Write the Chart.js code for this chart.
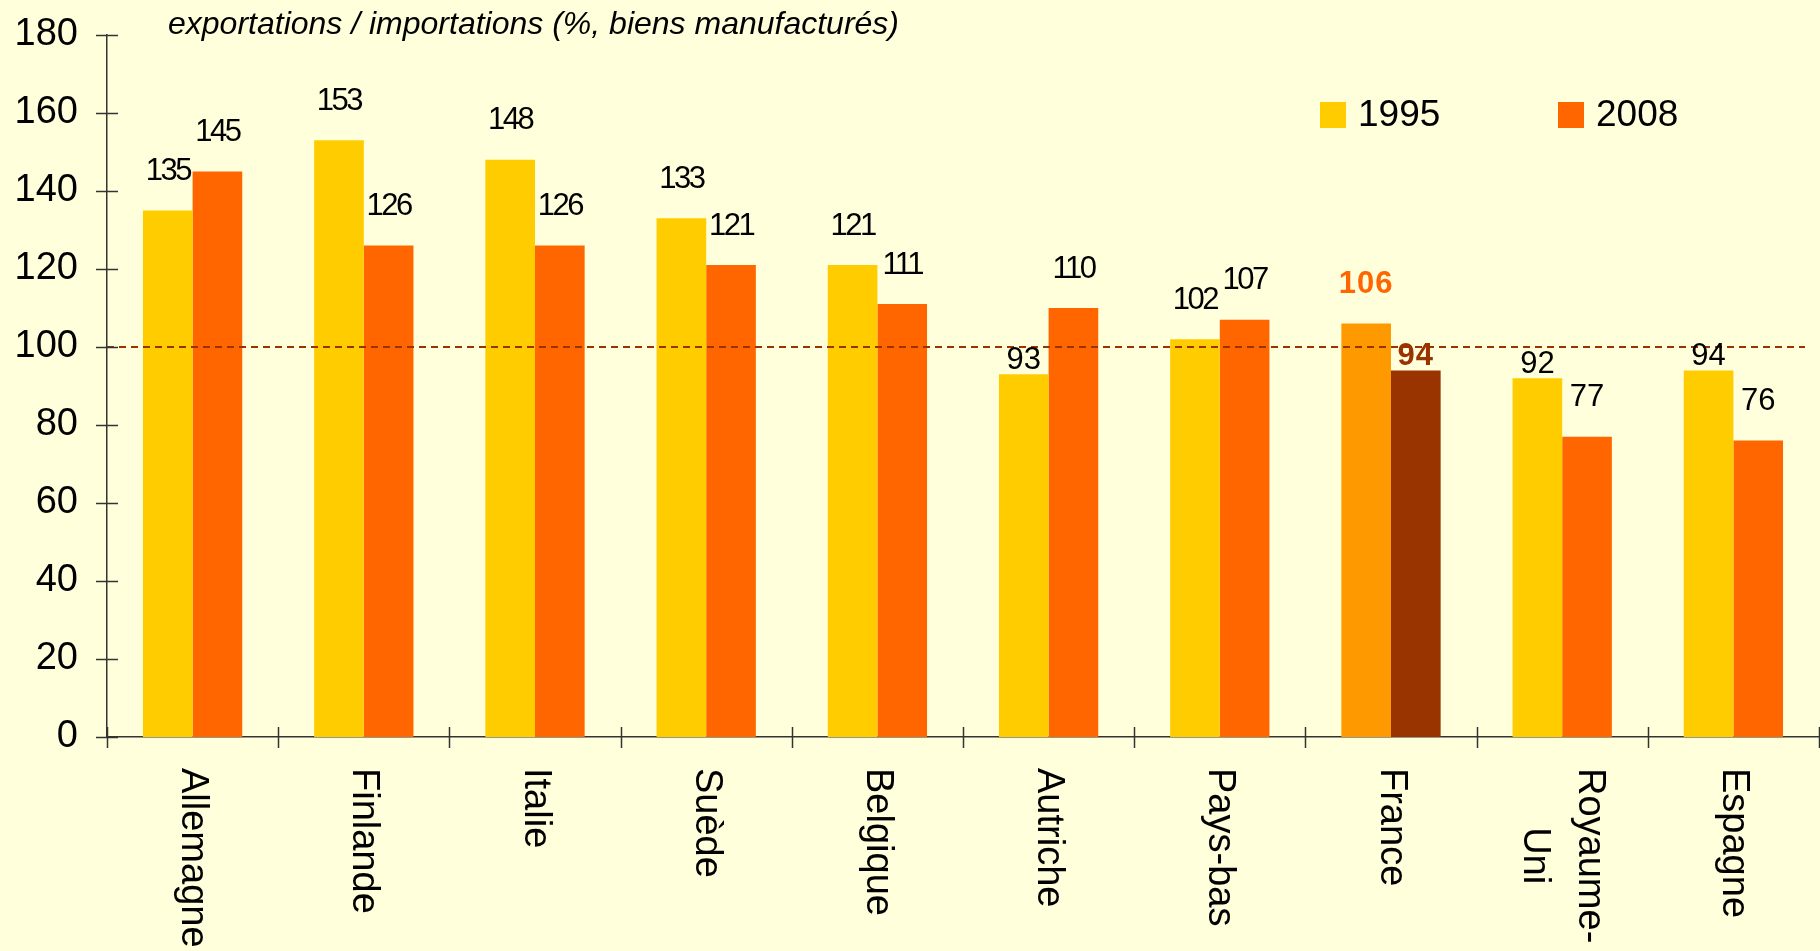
<!DOCTYPE html>
<html>
<head>
<meta charset="utf-8">
<script src="https://cdn.jsdelivr.net/npm/chart.js@4"></script>
<style>
  html, body { margin: 0; padding: 0; background: #FFFFDC; }
  #wrap { width: 1820px; height: 951px; }
</style>
</head>
<body>
<div id="wrap"><canvas id="chartCanvas"></canvas></div>
<script>
// Données (taux de couverture, %)
const categories = ["Allemagne", "Finlande", "Italie", "Suède", "Belgique", "Autriche", "Pays-bas", "France", ["Royaume-", "Uni"], "Espagne"];
const values1995 = [135, 153, 148, 133, 121, 93, 102, 106, 92, 94];
const values2008 = [145, 126, 126, 121, 111, 110, 107, 94, 77, 76];
const seriesNames = ["1995", "2008"];
const yTicks = [0, 20, 40, 60, 80, 100, 120, 140, 160, 180];
const refValue = 100;
const titleText = "exportations / importations (%, biens manufacturés)";

const FONT = '"Liberation Sans", Arial, sans-serif';
const colors = ["#FFCC00", "#FF6600"];
const franceColors = ["#FF9900", "#993300"];
const franceLabelColors = ["#FF6600", "#993300"];

const isFrance = (i) => categories[i] === "France";

// Marques d'axes, ligne 100, étiquettes, légende, titre
const decorPlugin = {
  id: "decor",
  afterDatasetsDraw(chart) {
    const ctx = chart.ctx;
    const x = chart.scales.x, y = chart.scales.y;
    const area = chart.chartArea;
    ctx.save();

    // ligne de référence pointillée
    const yRef = y.getPixelForValue(refValue);
    ctx.strokeStyle = "#993300";
    ctx.lineWidth = 2;
    ctx.setLineDash([7, 5]);
    ctx.beginPath();
    ctx.moveTo(area.left, yRef);
    ctx.lineTo(area.right - 14, yRef);
    ctx.stroke();
    ctx.setLineDash([]);

    // graduations
    ctx.strokeStyle = "#333";
    ctx.lineWidth = 1.5;
    yTicks.forEach(v => {
      const py = Math.round(y.getPixelForValue(v)) + 0.5;
      ctx.beginPath();
      ctx.moveTo(area.left - 11, py);
      ctx.lineTo(area.left + 11, py);
      ctx.stroke();
    });
    for (let i = 0; i <= categories.length; i++) {
      const px = Math.round(x.getPixelForValue(i - 0.5)) + 0.5;
      ctx.beginPath();
      ctx.moveTo(px, area.bottom - 10);
      ctx.lineTo(px, area.bottom + 11);
      ctx.stroke();
    }

    // étiquettes de données
    ctx.textAlign = "center";
    ctx.textBaseline = "middle";
    chart.data.datasets.forEach((ds, di) => {
      chart.getDatasetMeta(di).data.forEach((bar, i) => {
        const v = ds.data[i];
        const txt = String(v);
        const near = v < refValue && v > 85;
        if (isFrance(i)) {
          ctx.font = "bold 31px " + FONT;
          ctx.fillStyle = franceLabelColors[di];
          ctx.letterSpacing = "1px";
        } else {
          ctx.font = "31px " + FONT;
          ctx.fillStyle = "#000";
          ctx.letterSpacing = txt.length > 2 ? "-2.5px" : "0px";
        }
        ctx.fillText(txt, bar.x, bar.y - (near ? 14 : 39));
      });
    });
    ctx.letterSpacing = "0px";

    // libellés des pays, verticaux
    ctx.font = "38px " + FONT;
    ctx.fillStyle = "#000";
    categories.forEach((c, i) => {
      const lines = Array.isArray(c) ? c : [c];
      const maxW = Math.max(...lines.map(l => ctx.measureText(l).width));
      const cx = x.getPixelForValue(i);
      ctx.save();
      ctx.translate(cx, area.bottom + 31);
      ctx.rotate(Math.PI / 2);
      lines.forEach((l, k) => {
        ctx.fillText(l, maxW / 2, (k - (lines.length - 1) / 2) * 55);
      });
      ctx.restore();
    });

    // légende
    ctx.textAlign = "left";
    ctx.font = "37px " + FONT;
    const legX = [1320, 1558];
    seriesNames.forEach((n, k) => {
      ctx.fillStyle = colors[k];
      ctx.fillRect(legX[k], 102, 26, 26);
      ctx.fillStyle = "#000";
      ctx.fillText(n, legX[k] + 38, 116);
    });

    // titre
    ctx.font = "italic 32px " + FONT;
    ctx.fillText(titleText, 168, 25);

    ctx.restore();
  }
};

const bgPlugin = {
  id: "bg",
  beforeDraw(chart) {
    const ctx = chart.ctx;
    ctx.save();
    ctx.fillStyle = "#FFFFDC";
    ctx.fillRect(0, 0, chart.width, chart.height);
    ctx.restore();
  }
};

new Chart(document.getElementById("chartCanvas"), {
  type: "bar",
  data: {
    labels: categories,
    datasets: [
      {
        label: seriesNames[0],
        data: values1995,
        backgroundColor: (c) => isFrance(c.dataIndex) ? franceColors[0] : colors[0],
        categoryPercentage: 0.58,
        barPercentage: 1
      },
      {
        label: seriesNames[1],
        data: values2008,
        backgroundColor: (c) => isFrance(c.dataIndex) ? franceColors[1] : colors[1],
        categoryPercentage: 0.58,
        barPercentage: 1
      }
    ]
  },
  options: {
    responsive: true,
    maintainAspectRatio: false,
    animation: false,
    layout: { padding: { top: 35, right: 1, left: 0, bottom: 0 } },
    plugins: {
      legend: { display: false },
      tooltip: { enabled: false }
    },
    scales: {
      x: {
        grid: { display: false },
        border: { display: true, color: "#333", width: 1.5 },
        ticks: { display: false },
        afterFit(s) { s.height = 214; s.paddingLeft = 0; s.paddingRight = 0; }
      },
      y: {
        min: 0,
        max: 180,
        grid: { display: false },
        border: { display: true, color: "#333", width: 1.5 },
        ticks: {
          stepSize: 20,
          padding: 21,
          color: "#000",
          font: { family: FONT, size: 38 }
        },
        afterFit(s) { s.width = 107; s.paddingTop = 0; s.paddingBottom = 0; }
      }
    }
  },
  plugins: [bgPlugin, decorPlugin]
});
</script>
</body>
</html>
